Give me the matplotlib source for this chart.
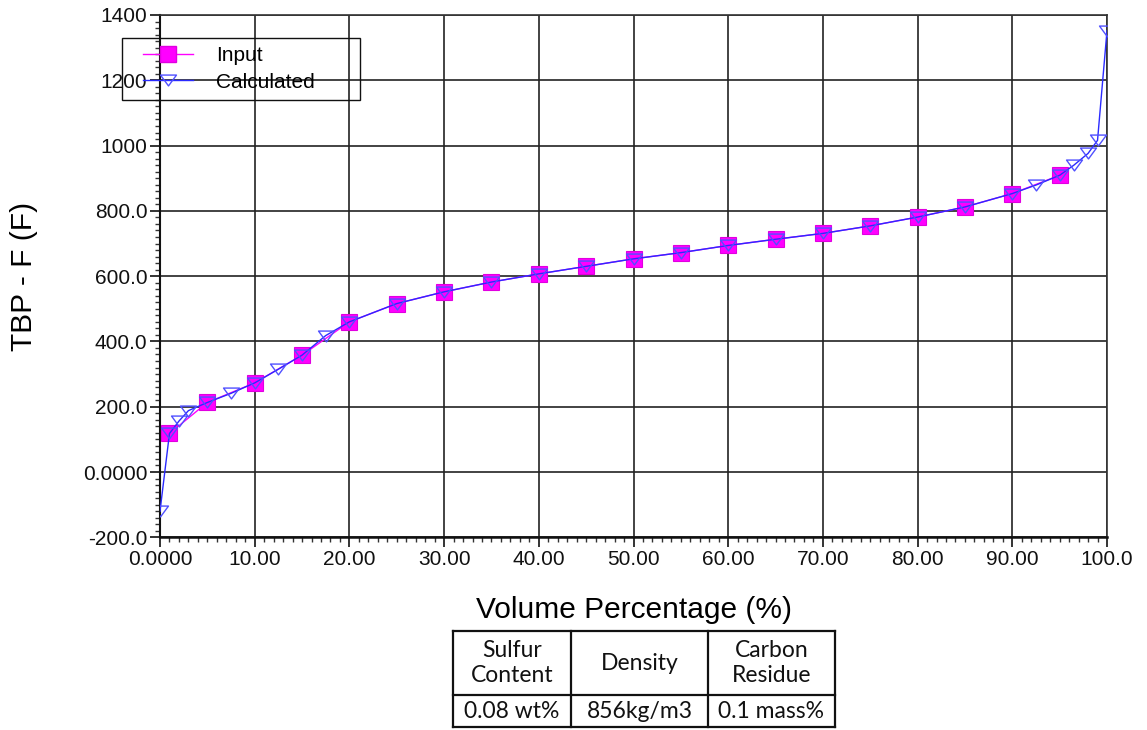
import matplotlib
matplotlib.use("Agg")
import matplotlib.pyplot as plt
from matplotlib.ticker import FixedLocator, FixedFormatter, MultipleLocator
from matplotlib.patches import Rectangle
from matplotlib.path import Path
from matplotlib.lines import Line2D

# Measured TBP curve (input points)
input_x = [1, 5, 10, 15, 20, 25, 30, 35, 40, 45, 50, 55, 60, 65, 70, 75, 80, 85, 90, 95]
input_y = [118, 213, 273, 358, 460, 516, 552, 582, 607, 630, 653, 672, 694, 713, 731, 754, 781, 812, 853, 909]

# Calculated TBP curve
calc_x = [0, 1, 2, 3, 5, 7.5, 10, 12.5, 15, 17.5, 20, 25, 30, 35, 40, 45, 50, 55, 60, 65,
          70, 75, 80, 85, 90, 92.5, 95, 96.5, 98, 99, 100]
calc_y = [-120, 118, 156, 188, 213, 241, 273, 315, 358, 418, 460, 516, 552, 582, 607, 630,
          653, 672, 694, 713, 731, 754, 781, 812, 853, 879, 909, 940, 976, 1016, 1352]

x_ticks = [0, 10, 20, 30, 40, 50, 60, 70, 80, 90, 100]
x_ticklabels = ["0.0000", "10.00", "20.00", "30.00", "40.00", "50.00",
                "60.00", "70.00", "80.00", "90.00", "100.0"]
y_ticks = [-200, 0, 200, 400, 600, 800, 1000, 1200, 1400]
y_ticklabels = ["-200.0", "0.0000", "200.0", "400.0", "600.0", "800.0", "1000", "1200", "1400"]

series_names = ["Input", "Calculated"]
x_title = "Volume Percentage (%)"
y_title = "TBP - F (F)"

table_header = ["Sulfur\nContent", "Density", "Carbon\nResidue"]
table_values = ["0.08 wt%", "856kg/m3", "0.1 mass%"]

plt.rcParams["font.family"] = ["Liberation Sans", "DejaVu Sans"]

W, H = 1147, 730
fig = plt.figure(figsize=(W / 100, H / 100), dpi=100)


def fx(px):
    return px / W


def fy(py):
    return 1 - py / H


ax = fig.add_axes([fx(160), fy(537.3), fx(1107) - fx(160), fy(15) - fy(537.3)])
ax.set_xlim(0, 100)
ax.set_ylim(-200, 1400)

# wide, flat downward triangle marker
tri = Path([(-1, 0.68), (1, 0.68), (0, -0.68), (-1, 0.68)],
           [Path.MOVETO, Path.LINETO, Path.LINETO, Path.CLOSEPOLY])

input_color = "#ff00ff"
calc_color = "#2a2aff"

ax.plot(input_x, input_y, color=input_color, lw=1.0, marker="s", ms=11,
        mfc=input_color, mec="#e000e0", mew=0.8, zorder=3)
ax.plot(calc_x, calc_y, color=calc_color, lw=1.0, marker=tri, ms=11.5,
        mfc="none", mec="#5050ff", mew=1.0, zorder=4)

# axes, ticks and grid
ax.xaxis.set_major_locator(FixedLocator(x_ticks))
ax.xaxis.set_major_formatter(FixedFormatter(x_ticklabels))
ax.yaxis.set_major_locator(FixedLocator(y_ticks))
ax.yaxis.set_major_formatter(FixedFormatter(y_ticklabels))
ax.xaxis.set_minor_locator(MultipleLocator(1))
ax.yaxis.set_minor_locator(MultipleLocator(20))
ax.tick_params(which="major", direction="out", length=7, width=1.2, labelsize=15,
               colors="#111111", pad=2)
ax.tick_params(which="minor", direction="out", length=3.5, width=1.0, colors="#333333")
ax.grid(True, which="major", color="#222222", lw=1.2)
for s in ax.spines.values():
    s.set_linewidth(1.2)
    s.set_color("#333333")
ax.spines["bottom"].set_linewidth(1.8)
ax.spines["bottom"].set_color("#111111")
ax.spines["left"].set_linewidth(1.5)
ax.spines["left"].set_color("#111111")

ax.set_xlabel(x_title, fontsize=21.5, va="center")
ax.xaxis.set_label_coords(0.5, (537.3 - 610) / 522.3)
ax.set_ylabel(y_title, fontsize=21.5, va="center")
ax.yaxis.set_label_coords((24 - 160) / 947, 0.5)

# legend (transparent, with an explicit frame)
handles = [
    Line2D([], [], color=input_color, lw=1.0, marker="s", ms=11, mfc=input_color, mec="#e000e0"),
    Line2D([], [], color=calc_color, lw=1.0, marker=tri, ms=11.5, mfc="none", mec="#5050ff"),
]
fig.legend(handles, series_names, loc="center left",
           bbox_to_anchor=(fx(143), fy(69)), frameon=False, fontsize=15,
           handlelength=2.4, handletextpad=1.1, labelspacing=0.35, borderpad=0,
           borderaxespad=0)
fig.add_artist(Rectangle((fx(122), fy(100)), fx(360) - fx(122), fy(38) - fy(100),
                         transform=fig.transFigure, fill=False, ec="#111111", lw=1.0))

# property table below the chart
col_edges = [453, 571, 708, 835]
row_edges = [631, 695, 727]
lc = "#111111"
for xe in col_edges:
    fig.add_artist(Line2D([fx(xe), fx(xe)], [fy(row_edges[0]), fy(row_edges[-1])],
                          transform=fig.transFigure, color=lc, lw=1.6))
for ye in row_edges:
    fig.add_artist(Line2D([fx(col_edges[0]), fx(col_edges[-1])], [fy(ye), fy(ye)],
                          transform=fig.transFigure, color=lc, lw=1.6))
for i in range(3):
    cx = (col_edges[i] + col_edges[i + 1]) / 2
    fig.text(fx(cx), fy((row_edges[0] + row_edges[1]) / 2), table_header[i],
             ha="center", va="center", fontsize=16.5, family="Lato",
             linespacing=1.25, color="#111111")
    fig.text(fx(cx), fy((row_edges[1] + row_edges[2]) / 2 + 1), table_values[i],
             ha="center", va="center", fontsize=16.5, family="Lato", color="#111111")

fig.savefig("out.png", dpi=100)
